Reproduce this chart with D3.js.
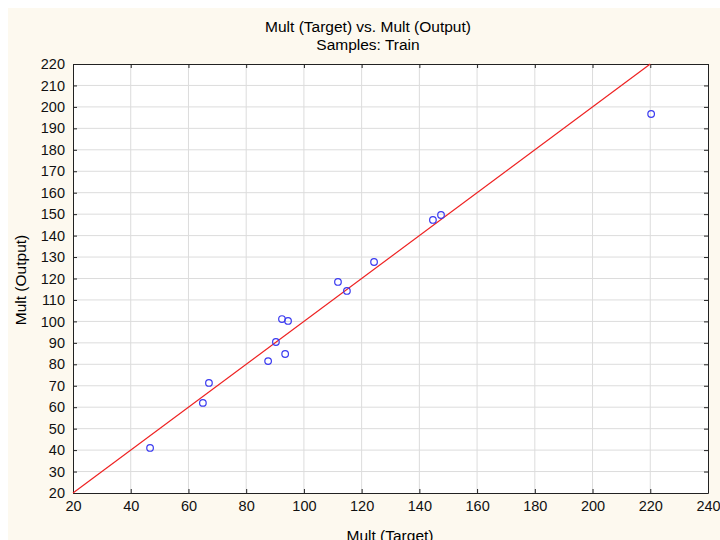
<!DOCTYPE html>
<html>
<head>
<meta charset="utf-8">
<script src="https://cdn.jsdelivr.net/npm/d3@7"></script>
<style>
  body { margin: 0; background: #fff; }
  text { font-family: "Liberation Sans", Arial, sans-serif; }
</style>
</head>
<body>
<script>
// data
var targetValues = [46.7, 65.0, 67.1, 87.6, 90.3, 93.5, 92.4, 94.5, 111.8, 114.9, 124.3, 144.7, 147.5, 220.3];
var outputValues = [41.0, 62.0, 71.3, 81.5, 90.4, 84.8, 101.1, 100.2, 118.4, 114.2, 127.7, 147.3, 149.6, 196.7];
var xTicks = d3.range(20, 241, 20);
var yTicks = d3.range(20, 221, 10);
var fitLine = [20, 220]; // y = x reference line

var svg_Width = 720;
var svg_Height = 540;
var svg_margin = { top: 64, right: 12, bottom: 47, left: 73 };
var width = svg_Width - svg_margin.left - svg_margin.right;
var height = svg_Height - svg_margin.top - svg_margin.bottom;

var svg = d3.select("body")
  .append("svg")
  .attr("width", svg_Width)
  .attr("height", svg_Height);

// cream panel
svg.append("rect")
  .attr("x", 8).attr("y", 8)
  .attr("width", svg_Width - 8).attr("height", svg_Height - 8)
  .attr("fill", "#fdf9ef");

var g = svg.append("g")
  .attr("transform", `translate(${svg_margin.left}, ${svg_margin.top})`);

var x = d3.scaleLinear().domain([20, 240]).range([0, width]);
var y = d3.scaleLinear().domain([20, 220]).range([height, 0]);

g.append("rect")
  .attr("width", width).attr("height", height)
  .attr("fill", "#fff");

// grid
g.append("g").selectAll("line")
  .data(xTicks.slice(1, -1))
  .enter().append("line")
  .attr("x1", d => x(d)).attr("x2", d => x(d))
  .attr("y1", 0).attr("y2", height)
  .attr("stroke", "#dcdcdc");

g.append("g").selectAll("line")
  .data(yTicks.slice(1, -1))
  .enter().append("line")
  .attr("y1", d => y(d)).attr("y2", d => y(d))
  .attr("x1", 0).attr("x2", width)
  .attr("stroke", "#dcdcdc");

// axes with inward ticks
function styleAxis(sel) {
  sel.selectAll("path").attr("stroke", "#222");
  sel.selectAll("line").attr("stroke", "#222");
  sel.selectAll("text").attr("font-size", 14.5).attr("fill", "#111")
    .attr("font-family", "Liberation Sans, Arial, sans-serif");
}

g.append("g")
  .attr("transform", `translate(0, ${height})`)
  .call(d3.axisBottom(x).tickValues(xTicks).tickSizeInner(-4).tickSizeOuter(0).tickPadding(8))
  .call(styleAxis);

g.append("g")
  .call(d3.axisLeft(y).tickValues(yTicks).tickSizeInner(-4).tickSizeOuter(0).tickPadding(8))
  .call(styleAxis);

g.append("g")
  .call(d3.axisTop(x).tickValues(xTicks).tickSizeInner(-4).tickSizeOuter(0).tickFormat(""))
  .call(styleAxis);

g.append("g")
  .attr("transform", `translate(${width}, 0)`)
  .call(d3.axisRight(y).tickValues(yTicks).tickSizeInner(-4).tickSizeOuter(0).tickFormat(""))
  .call(styleAxis);

// reference line
g.append("line")
  .attr("x1", x(fitLine[0])).attr("y1", y(fitLine[0]))
  .attr("x2", x(fitLine[1])).attr("y2", y(fitLine[1]))
  .attr("stroke", "#ee2222")
  .attr("stroke-width", 1.2);

// points
g.selectAll("circle.pt")
  .data(targetValues)
  .enter().append("circle")
  .attr("class", "pt")
  .attr("cx", d => x(d))
  .attr("cy", (d, i) => y(outputValues[i]))
  .attr("r", 3.3)
  .attr("fill", "none")
  .attr("stroke", "#3a3af0")
  .attr("stroke-width", 1.2);

// titles
svg.append("text")
  .attr("x", 368).attr("y", 32)
  .attr("text-anchor", "middle")
  .attr("font-size", 15.5)
  .text("Mult (Target) vs. Mult (Output)");

svg.append("text")
  .attr("x", 368).attr("y", 50)
  .attr("text-anchor", "middle")
  .attr("font-size", 15.5)
  .text("Samples: Train");

svg.append("text")
  .attr("x", 390).attr("y", 541)
  .attr("text-anchor", "middle")
  .attr("font-size", 15.5)
  .text("Mult (Target)");

svg.append("text")
  .attr("transform", "translate(26, 280) rotate(-90)")
  .attr("text-anchor", "middle")
  .attr("font-size", 15.5)
  .text("Mult (Output)");
</script>
</body>
</html>
